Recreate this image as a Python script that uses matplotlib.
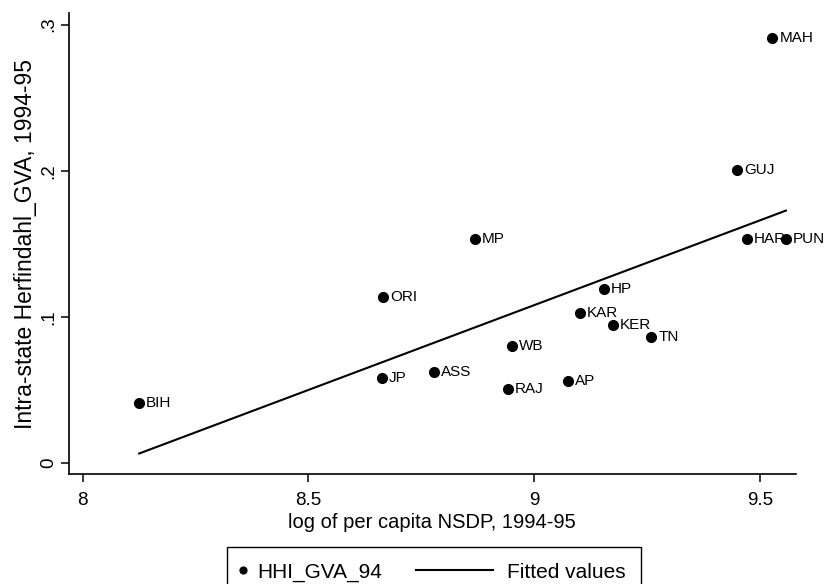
"""
Intra-state concentration vs per capita income, 1994-95
scatter of states with an OLS fitted line (Stata-style look)
"""

import matplotlib
matplotlib.use("Agg")
import matplotlib.pyplot as plt
import numpy as np
from matplotlib.legend_handler import HandlerLine2D

plt.rcParams["font.family"] = ["Liberation Sans", "DejaVu Sans"]

# ---------------------------------------------------------------------------
# Data
# ---------------------------------------------------------------------------

states = ["BIH", "ORI", "JP", "ASS", "WB", "RAJ", "MP", "HP",
          "KAR", "KER", "TN", "AP", "MAH", "GUJ", "HAR", "PUN"]
log_nsdp = [8.125, 8.666, 8.662, 8.778, 8.950, 8.942, 8.869, 9.155,
            9.102, 9.174, 9.260, 9.075, 9.528, 9.450, 9.471, 9.558]
hhi_gva = [0.0413, 0.1135, 0.0580, 0.0625, 0.0803, 0.0505, 0.1534, 0.1192,
           0.1030, 0.0947, 0.0865, 0.0564, 0.2909, 0.2007, 0.1536, 0.1536]

x_ticks = [8, 8.5, 9, 9.5]
x_tick_labels = ["8", "8.5", "9", "9.5"]
y_ticks = [0, 0.1, 0.2, 0.3]
y_tick_labels = ["0", ".1", ".2", ".3"]


class LineReachingLeft(HandlerLine2D):
    """Legend line drawn leftwards from the handle's right edge."""

    def __init__(self, length_pt, **kw):
        super().__init__(**kw)
        self.length_pt = length_pt

    def create_artists(self, legend, orig_handle, xdescent, ydescent,
                       width, height, fontsize, trans):
        arts = super().create_artists(legend, orig_handle, xdescent, ydescent,
                                      width, height, fontsize, trans)
        for a in arts:
            xd = np.asarray(a.get_xdata(), dtype=float)
            right = xd.max()
            a.set_xdata(np.linspace(right - self.length_pt, right, len(xd)))
        return arts


def main():
    x = np.array(log_nsdp)
    y = np.array(hhi_gva)
    slope, intercept = np.polyfit(x, y, 1)
    xf = np.array([x.min(), x.max()])
    yf = intercept + slope * xf

    fig = plt.figure(figsize=(8.29, 5.84), dpi=100)
    ax = fig.add_axes([0.083, 0.188, 0.877, 0.790])

    ax.plot(x, y, "o", color="black", markersize=7, label="HHI_GVA_94")
    ax.plot(xf, yf, "-", color="black", lw=1.5, label="Fitted values")
    for name, xi, yi in zip(states, x, y):
        ax.annotate(name, (xi, yi), xytext=(5, 0), textcoords="offset points",
                    ha="left", va="center", fontsize=11)

    ax.set_xlim(7.969, 9.58)
    ax.set_ylim(-0.0075, 0.308)
    ax.set_xticks(x_ticks)
    ax.set_xticklabels(x_tick_labels)
    ax.set_yticks(y_ticks)
    ax.set_yticklabels(y_tick_labels, rotation=90, va="center")

    for side in ["top", "right"]:
        ax.spines[side].set_visible(False)
    for side in ["left", "bottom"]:
        ax.spines[side].set_linewidth(1.2)
    ax.tick_params(direction="out", length=6, width=1.1, labelsize=13.5)
    ax.tick_params(axis="x", pad=7)
    ax.tick_params(axis="y", pad=2)

    ax.set_xlabel("log of per capita NSDP, 1994-95", fontsize=14.5, labelpad=3)
    ax.set_ylabel("Intra-state Herfindahl_GVA, 1994-95", fontsize=16.5, labelpad=3)

    handles, labels = ax.get_legend_handles_labels()
    leg = fig.legend(
        handles, labels,
        loc="upper left", bbox_to_anchor=(227 / 829, 1 - 547 / 584),
        bbox_transform=fig.transFigure, borderaxespad=0,
        ncol=2, handlelength=0.0, handletextpad=0.7, columnspacing=5.3,
        borderpad=0.75, fontsize=15, markerscale=0.7, fancybox=False,
        framealpha=1, edgecolor="black",
        handler_map={handles[1]: LineReachingLeft(length_pt=55)},
    )
    leg.get_frame().set_linewidth(1.0)

    fig.savefig("out.png", dpi=100)
    plt.close(fig)


if __name__ == "__main__":
    main()
